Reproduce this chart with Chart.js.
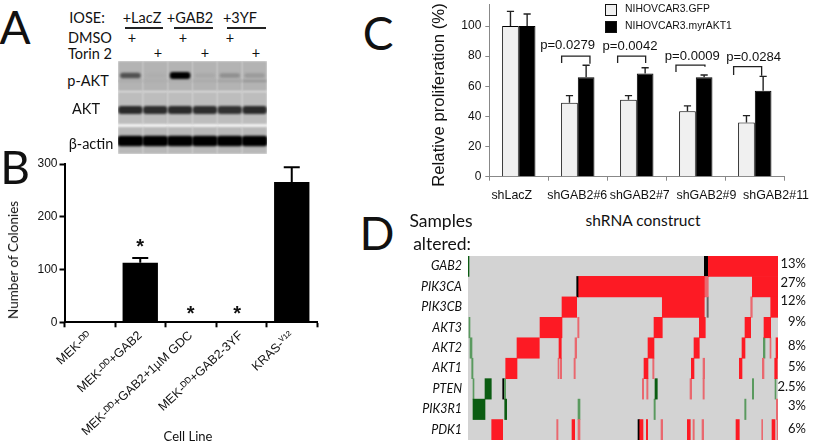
<!DOCTYPE html>
<html>
<head>
<meta charset="utf-8">
<script src="https://cdn.jsdelivr.net/npm/chart.js@4"></script>
<style>
html,body{margin:0;padding:0;background:#fff;width:814px;height:441px;overflow:hidden}
canvas{position:absolute}
.t{position:absolute;white-space:nowrap;font-family:Lato,sans-serif;color:#111;transform:translate(-50%,-50%)}
.l{position:absolute;background:#222;height:2px}
</style>
</head>
<body>
<canvas id="blot" width="149" height="93" style="left:118px;top:61px"></canvas>
<canvas id="colonies" width="325" height="286" style="left:0;top:155px"></canvas>
<canvas id="prolif" width="394" height="210" style="left:420px;top:0"></canvas>
<canvas id="onco" width="414" height="191" style="left:400px;top:250px"></canvas>
<script>
// panel A - band intensity per lane, 0 = nothing, 1 = saturated
const lanes=['LacZ DMSO','LacZ Torin2','GAB2 DMSO','GAB2 Torin2','3YF DMSO','3YF Torin2'];
const pAkt=[0.55,0.03,1,0.06,0.2,0.14];
const pAktLower=[0.04,0.03,0.03,0.05,0.1,0.18];
const totalAkt=[0.78,0.76,0.78,0.76,0.74,0.78];
const actin=[1,1,1,1,1,1];

// panel B
const cellLines=['MEK-ᴰᴰ','MEK-ᴰᴰ+GAB2','MEK-ᴰᴰ+GAB2+1µM GDC','MEK-ᴰᴰ+GAB2-3YF','KRAS-ⱽ¹²'];
const colonies=[2,113,2,2,266];
const coloniesErr=[0,122,0,0,294];
const colonyStars=[null,141,15,15,null];
const colonyTicks=[0,100,200,300];

// panel C
const constructs=['shLacZ','shGAB2#6','shGAB2#7','shGAB2#9','shGAB2#11'];
const gfp=[100,49,51,43.5,36];
const myrAkt=[100,66,68.5,66,57];
const gfpErr=[109.7,53.8,53.8,47,40.5];
const myrAktErr=[108,74,72.3,67.5,66.6];
const pValues=['p=0.0279','p=0.0042','p=0.0009','p=0.0284'];
const pValueY=[87.4,86.3,80,79];
const bracketTop=[80,80,74,73];
const bracketLegs=[[75.5,75],[75.5,75.5],[69.5,73],[67.5,67]];

// panel D - altered sample ranges per gene [from,to,kind]
const genes=['GAB2','PIK3CA','PIK3CB','AKT3','AKT2','AKT1','PTEN','PIK3R1','PDK1'];
const altered=['13%','27%','12%','9%','8%','5%','2.5%','3%','6%'];
const gab2=[[0,1,'del'],[236.3,240.3,'both'],[240.3,310,'amp']];
const pik3ca=[[108.7,110.7,'both'],[110.7,236.3,'amp'],[236.3,240.3,'gain'],[284.3,310,'amp']];
const pik3cb=[[94,108.7,'amp'],[194.3,236.3,'amp'],[239,240.3,'grey'],[282.7,284.3,'gain'],[302.7,310,'amp']];
const akt3=[[1,2,'loss'],[72,94,'amp'],[109.7,111,'gain'],[186,194.3,'amp'],[231.3,237.3,'amp'],[277,282.7,'amp'],[296,302.7,'amp']];
const akt2=[[2,4,'loss'],[49,71.3,'amp'],[91,93.3,'amp'],[107,108.7,'gain'],[180,186,'amp'],[226,231.3,'amp'],[274,277,'amp'],[295.3,297,'loss'],[302,303,'gain'],[308,310,'amp']];
const akt1=[[3.7,5,'loss'],[37.7,49,'amp'],[90,91,'gain'],[92.3,93.7,'gain'],[106,107.3,'gain'],[176,180,'amp'],[184.7,186,'gain'],[223.3,226,'amp'],[235,236.7,'gain'],[271.3,274,'amp'],[294.3,296,'gain'],[306.7,309.3,'amp']];
const pten=[[5,6,'loss'],[17,23.3,'del'],[34.7,36.3,'both'],[36.3,37.7,'loss'],[174.3,175.7,'gain'],[178.7,180,'gain'],[187,189.3,'del'],[222,223.7,'gain'],[235,236.3,'gain'],[284.3,285.7,'loss'],[307,308,'loss']];
const pik3r1=[[5,17,'del'],[36.7,38.7,'del'],[110,112,'loss'],[186,187.3,'loss'],[276.7,278,'loss'],[308.3,309.7,'gain']];
const pdk1=[[23.7,34.7,'amp'],[88.7,90,'gain'],[104,106.7,'amp'],[110,112,'gain'],[170,171.7,'both'],[171.7,175,'amp'],[178.3,179.7,'amp'],[193,194.7,'gain'],[219.3,222.3,'amp'],[225,226.3,'gain'],[234,235.7,'gain'],[268,271.3,'amp'],[293.7,294.7,'gain'],[304,307,'amp'],[309,310,'gain']];
const perGene=[gab2,pik3ca,pik3cb,akt3,akt2,akt1,pten,pik3r1,pdk1];
const kindColor={amp:'#fd1a24',gain:'#e9686f',del:'#0b5c12',loss:'#5a9a5f',both:'#000',grey:'#666'};

const ARIAL='"Liberation Sans",Arial,sans-serif';
Chart.defaults.animation=false;
Chart.defaults.responsive=false;
Chart.defaults.devicePixelRatio=1;
Chart.defaults.plugins.legend.display=false;
Chart.defaults.plugins.tooltip.enabled=false;

// text that sits around the charts
function note(text,x,y,size,extra){
  const d=document.createElement('div');
  d.className='t';
  d.textContent=text;
  d.style.left=x+'px';d.style.top=y+'px';d.style.fontSize=size+'px';
  if(extra)Object.assign(d.style,extra);
  document.body.appendChild(d);
}
function rule(x,y,w){
  const d=document.createElement('div');
  d.className='l';
  d.style.left=x+'px';d.style.top=y+'px';d.style.width=w+'px';
  document.body.appendChild(d);
}
[['A',15,26],['B',15,166],['C',378,32],['D',377,232]].forEach(p=>note(p[0],p[1],p[2],46));
note('IOSE:',87,17,14.5);
note('+LacZ',142,17,14.5);note('+GAB2',190,17,14.5);note('+3YF',240,17,14.5);
rule(125,27,38);rule(174,27,39);rule(227,27,39);
note('DMSO',90,37,14.5);note('Torin 2',90,53,14.5);
[132,183,230].forEach(x=>note('+',x,37,14.5));
[158,205,256].forEach(x=>note('+',x,52,14.5));
note('p-AKT',88,80,14.5);note('AKT',86,108,14.5);note('β-actin',91,143,14.5);
note('Number of Colonies',13,260,13.5,{transform:'translate(-50%,-50%) rotate(-90deg)'});
note('Cell Line',188,436,13);
note('Relative proliferation (%)',439,95,16.8,{fontFamily:ARIAL,transform:'translate(-50%,-50%) rotate(-90deg)'});
note('shRNA construct',643,220,15.5);
note('Samples',441,220,17.5);note('altered:',442,243,17.5);

// Panel A
const strips=[[0,30],[31,63],[66,93]];
function grey(i,light){return 'rgb('+[0,0,0].map(()=>Math.round(light-light*i))+')';}
new Chart(document.getElementById('blot'),{
  type:'bar',
  data:{labels:lanes,datasets:[
    {data:pAkt.map(i=>[12.5-i*1.5,16.5+i*1.5]),backgroundColor:pAkt.map(i=>grey(i,179)),categoryPercentage:.83},
    {data:pAktLower.map(()=>[19,21]),backgroundColor:pAktLower.map(i=>grey(i,179))},
    {data:totalAkt.map(()=>[45,53]),backgroundColor:totalAkt.map(i=>grey(i,189))},
    {data:actin.map(()=>[75,85]),backgroundColor:actin.map(i=>grey(i,184)),categoryPercentage:1},
    {data:lanes.map(()=>strips[0]),backgroundColor:'#b3b3b3',categoryPercentage:1,borderRadius:0},
    {data:lanes.map(()=>strips[1]),backgroundColor:'#bdbdbd',categoryPercentage:1,borderRadius:0},
    {data:lanes.map(()=>strips[2]),backgroundColor:'#b8b8b8',categoryPercentage:1,borderRadius:0}
  ]},
  options:{
    layout:{padding:0},
    datasets:{bar:{grouped:false,barPercentage:1,categoryPercentage:.98,borderRadius:3,borderSkipped:false}},
    scales:{x:{display:false},y:{display:false,min:0,max:93,reverse:true}}
  },
  plugins:[{id:'soft',
    beforeDatasetsDraw(c){c.ctx.save();c.ctx.filter='blur(1px)';},
    afterDatasetsDraw(c){c.ctx.restore();}
  }]
});

// up-only error bars, one list per dataset
const errorBars={id:'errorBars',afterDatasetsDraw(c,a,o){
  const ctx=c.ctx;
  o.tops.forEach((tops,d)=>{
    const meta=c.getDatasetMeta(d);
    tops.forEach((v,i)=>{
      if(!v)return;
      const x=meta.data[i].x,y=c.scales.y.getPixelForValue(v),y0=meta.data[i].y;
      ctx.save();
      ctx.strokeStyle=o.color;ctx.lineWidth=o.width;
      ctx.beginPath();
      ctx.moveTo(x,y0);ctx.lineTo(x,y);
      ctx.moveTo(x-o.cap,y);ctx.lineTo(x+o.cap,y);
      ctx.stroke();
      ctx.restore();
    });
  });
}};
// tick labels must not push the plot area in
function noPad(s){s.paddingTop=0;s.paddingBottom=0;}

// Panel B
new Chart(document.getElementById('colonies'),{
  type:'bar',
  data:{labels:cellLines,datasets:[{data:colonies,backgroundColor:'#000',barPercentage:1,categoryPercentage:.7}]},
  options:{
    layout:{padding:{top:9,right:8}},
    plugins:{errorBars:{tops:[coloniesErr],color:'#000',width:2,cap:8}},
    scales:{
      x:{
        afterFit(s){s.height=118.7;},
        grid:{drawOnChartArea:false,tickLength:5,tickWidth:2,tickColor:'#000'},
        border:{color:'#000',width:2},
        ticks:{color:'#111',font:{family:ARIAL,size:12.5},minRotation:43,maxRotation:43,autoSkip:false,padding:1}
      },
      y:{
        min:0,max:300,
        afterFit(s){s.width=64.5;noPad(s);},
        afterBuildTicks(s){s.ticks=colonyTicks.map(v=>({value:v}));},
        grid:{drawOnChartArea:false,tickLength:5,tickWidth:2,tickColor:'#000'},
        border:{color:'#000',width:2},
        ticks:{color:'#111',font:{family:ARIAL,size:12},padding:2}
      }
    }
  },
  plugins:[errorBars,{id:'stars',afterDatasetsDraw(c){
    const ctx=c.ctx,meta=c.getDatasetMeta(0);
    ctx.save();
    ctx.fillStyle='#111';ctx.font='bold 20px '+ARIAL;ctx.textAlign='center';ctx.textBaseline='middle';
    colonyStars.forEach((v,i)=>{
      if(v!==null)ctx.fillText('*',meta.data[i].x-(i==3?4:0),c.scales.y.getPixelForValue(v));
    });
    ctx.restore();
  }}]
});

// Panel C
const labelSpots=[.38,1.49,2.55,3.68,4.86];
const bracketX=[[1.226,1.706],[2.175,2.65],[3.164,3.655],[4.141,4.616]];
const pTextX=[1.328,2.384,3.441,4.48];
new Chart(document.getElementById('prolif'),{
  type:'bar',
  data:{labels:constructs,datasets:[
    {label:'NIHOVCAR3.GFP',data:gfp,backgroundColor:'#f0f0f0',borderColor:'#000',borderWidth:1},
    {label:'NIHOVCAR3.myrAKT1',data:myrAkt,backgroundColor:'#000',borderColor:'#000',borderWidth:1}
  ]},
  options:{
    layout:{padding:{top:4,right:29.7}},
    datasets:{bar:{barPercentage:1,categoryPercentage:.565}},
    plugins:{errorBars:{tops:[gfpErr,myrAktErr],color:'#222',width:1.4,cap:3.6}},
    scales:{
      x:{
        afterFit(s){s.height=6;},
        grid:{drawOnChartArea:false,tickLength:4,color:'#888'},
        border:{color:'#888'},
        ticks:{display:false}
      },
      x2:{
        type:'linear',position:'bottom',min:0,max:5,weight:1,offset:false,
        afterFit(s){s.height=27.3;s.paddingLeft=0;s.paddingRight=0;},
        afterBuildTicks(s){s.ticks=labelSpots.map(v=>({value:v}));},
        grid:{display:false,drawTicks:false,offset:false},
        border:{display:false},
        ticks:{color:'#111',font:{family:ARIAL,size:12.4},autoSkip:false,maxRotation:0,padding:5,
          callback(v,i){return constructs[i];}}
      },
      y:{
        min:0,max:114.6,
        afterFit(s){s.width=69.3;noPad(s);},
        afterBuildTicks(s){s.ticks=s.ticks.filter(t=>t.value%20==0);},
        grid:{drawOnChartArea:false,tickLength:4,color:'#888'},
        border:{color:'#888'},
        ticks:{stepSize:20,color:'#111',font:{family:ARIAL,size:12},padding:4}
      }
    }
  },
  plugins:[errorBars,{id:'notes',afterDraw(c){
    const ctx=c.ctx,sx=c.scales.x2,sy=c.scales.y;
    ctx.save();
    ctx.strokeStyle='#222';ctx.lineWidth=1.3;
    bracketX.forEach((b,i)=>{
      ctx.beginPath();
      ctx.moveTo(sx.getPixelForValue(b[0]),sy.getPixelForValue(bracketLegs[i][0]));
      ctx.lineTo(sx.getPixelForValue(b[0]),sy.getPixelForValue(bracketTop[i]));
      ctx.lineTo(sx.getPixelForValue(b[1]),sy.getPixelForValue(bracketTop[i]));
      ctx.lineTo(sx.getPixelForValue(b[1]),sy.getPixelForValue(bracketLegs[i][1]));
      ctx.stroke();
    });
    ctx.fillStyle='#111';ctx.font='13.1px '+ARIAL;ctx.textAlign='center';ctx.textBaseline='middle';
    pValues.forEach((p,i)=>ctx.fillText(p,sx.getPixelForValue(pTextX[i]),sy.getPixelForValue(pValueY[i])));
    // legend, top right
    c.data.datasets.forEach((d,i)=>{
      const y=4+17*i;
      ctx.fillStyle=d.backgroundColor;ctx.strokeStyle='#111';ctx.lineWidth=1;
      ctx.fillRect(185.5,y+.5,11,11);ctx.strokeRect(185.5,y+.5,11,11);
      ctx.fillStyle='#111';ctx.font='10.4px '+ARIAL;ctx.textAlign='left';
      ctx.fillText(d.label,205,y+5);
    });
    ctx.restore();
  }}]
});

// Panel D
const percentSpots=[.39,1.32,2.2,3.23,4.4,5.43,6.41,7.34,8.46];
new Chart(document.getElementById('onco'),{
  type:'bar',
  data:{labels:genes,datasets:Object.keys(kindColor).map(k=>({
    label:k,
    backgroundColor:kindColor[k],
    data:genes.flatMap((g,i)=>perGene[i].filter(r=>r[2]==k).map(r=>({x:[r[0],r[1]],y:g})))
  }))},
  options:{
    indexAxis:'y',
    layout:{padding:{top:6,right:8,bottom:1}},
    datasets:{bar:{grouped:false,barPercentage:1,categoryPercentage:1}},
    scales:{
      x:{type:'linear',min:0,max:310,display:false},
      y:{
        afterFit(s){s.width=68;noPad(s);},
        grid:{display:false,drawTicks:false},
        border:{display:false},
        ticks:{color:'#111',font:{family:'Lato',size:12.5,style:'italic'},padding:6,autoSkip:false}
      },
      y2:{
        type:'linear',position:'right',min:0,max:9,reverse:true,offset:false,
        afterFit(s){s.width=28;noPad(s);},
        afterBuildTicks(s){s.ticks=percentSpots.map(v=>({value:v}));},
        grid:{display:false,drawTicks:false,offset:false},
        border:{display:false},
        ticks:{color:'#111',font:{family:'Lato',size:13},crossAlign:'far',autoSkip:false,padding:0,
          callback(v,i){return altered[i];}}
      }
    }
  },
  plugins:[{id:'field',beforeDatasetsDraw(c){
    const a=c.chartArea;
    c.ctx.save();c.ctx.fillStyle='#d3d3d3';
    c.ctx.fillRect(a.left,a.top,a.right-a.left,a.bottom-a.top);
    c.ctx.restore();
  }}]
});
</script>
</body>
</html>
